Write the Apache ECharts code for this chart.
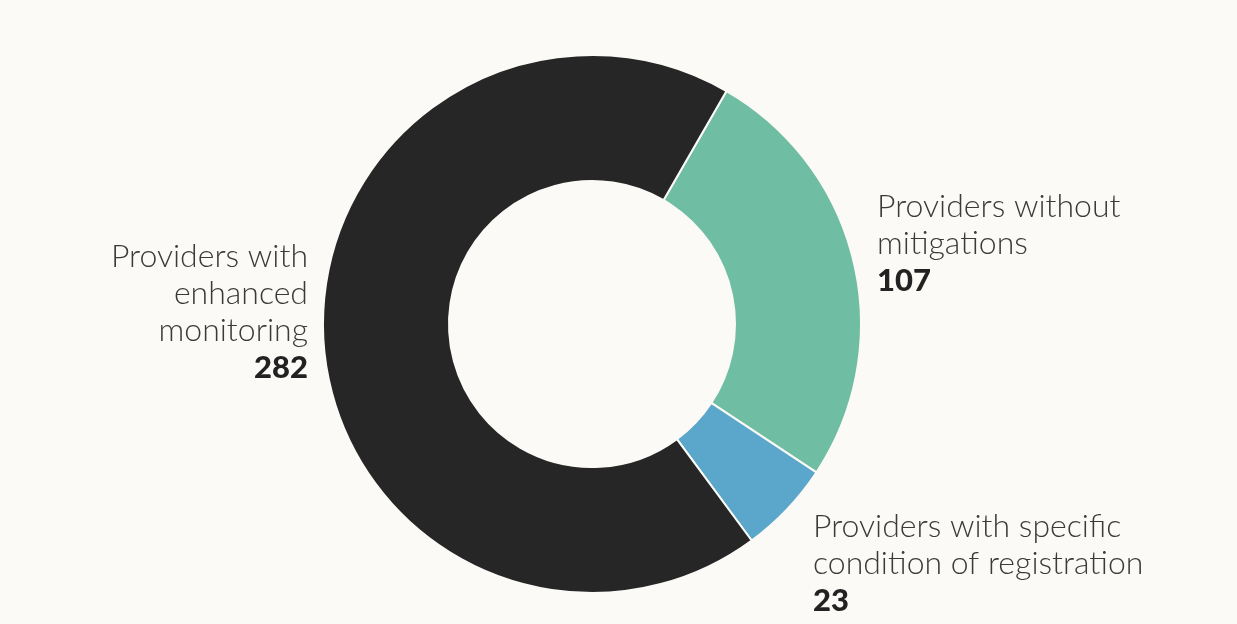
<!DOCTYPE html>
<html>
<head>
<meta charset="utf-8">
<script src="https://cdn.jsdelivr.net/npm/echarts@6/dist/echarts.min.js"></script>
<style>
  html, body { margin: 0; padding: 0; background: #fbfaf6; }
  #chart { width: 1237px; height: 624px; }
</style>
</head>
<body>
<div id="chart"></div>
<script>
// Provider groups, in drawing order (clockwise from the upper right)
const categories = [
  'Providers without\nmitigations',
  'Providers with specific\ncondition of registration',
  'Providers with\nenhanced\nmonitoring'
];
const values = [107, 23, 282];
const colors = ['#6fbda3', '#5ba6cb', '#262626'];

// Where each label block sits: [x, y, align]
const labelSpots = [
  [877, 188, 'left'],
  [813, 508, 'left'],
  [308, 238, 'right']
];

const chart = echarts.init(document.getElementById('chart'), null, { renderer: 'canvas' });

chart.setOption({
  backgroundColor: '#fbfaf6',
  animation: false,
  series: [{
    type: 'pie',
    center: [592, 324],
    radius: [143, 269],
    startAngle: 60,
    clockwise: true,
    avoidLabelOverlap: false,
    itemStyle: { borderColor: '#fbfaf6', borderWidth: 2 },
    labelLine: { show: false },
    label: {
      show: true,
      position: 'outside',
      formatter: p => '{n|' + p.name.split('\n').join('}\n{n|') + '}\n{v|' + p.value + '}',
      rich: {
        n: { fontFamily: 'Lato', fontWeight: 300, fontSize: 32, lineHeight: 37, color: '#3a3a3a' },
        v: { fontFamily: 'Lato', fontWeight: 900, fontSize: 31, lineHeight: 37, color: '#222222' }
      }
    },
    labelLayout: p => {
      const s = labelSpots[p.dataIndex];
      return { x: s[0], y: s[1], align: s[2], verticalAlign: 'top' };
    },
    data: categories.map((c, i) => ({ name: c, value: values[i], itemStyle: { color: colors[i] } }))
  }]
});
</script>
</body>
</html>
